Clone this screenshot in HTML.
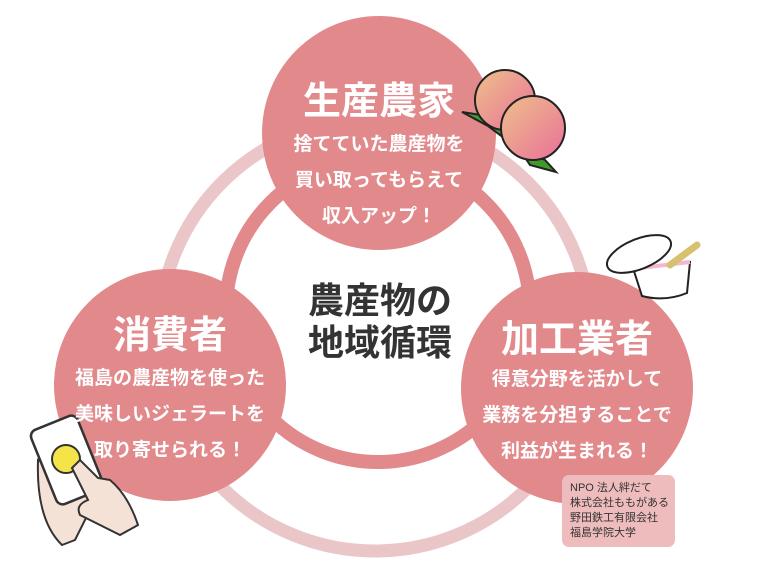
<!DOCTYPE html>
<html><head><meta charset="utf-8"><style>
body{margin:0;width:760px;height:570px;background:#fff;overflow:hidden;position:relative;font-family:"Liberation Sans","Noto Sans CJK JP",sans-serif}
.t{position:absolute;text-align:center;color:#fff;font-weight:bold;white-space:nowrap}
.h{font-size:38px}
.b{font-size:19px;line-height:36px}
</style></head><body>
<svg width="760" height="570" style="position:absolute;left:0;top:0">
<defs>
<linearGradient id="pg" x1="0" y1="0" x2="1" y2="1"><stop offset="0" stop-color="#eec08a"/><stop offset="1" stop-color="#e9709a"/></linearGradient>
</defs>
<circle cx="375" cy="335" r="216" fill="none" stroke="#ebc6c9" stroke-width="13"/>
<circle cx="378" cy="310" r="152" fill="none" stroke="#e2898c" stroke-width="14"/>
<circle cx="379" cy="133" r="117" fill="#e2898c"/>
<circle cx="170" cy="385" r="116" fill="#e2898c"/>
<circle cx="577" cy="388" r="116" fill="#e2898c"/>
<rect x="562" y="475" width="113" height="72" rx="7" fill="#efbcbe"/>
<!-- peach -->
<path d="M462 112 L500 118 L520 150 L488 126Z" fill="#3f9a2c" stroke="#222" stroke-width="2"/>
<path d="M520 150 L545 160 L556 172 L530 165Z" fill="#3f9a2c" stroke="#222" stroke-width="2"/>
<circle cx="505" cy="100" r="30" fill="url(#pg)" stroke="#222" stroke-width="2"/>
<circle cx="533" cy="128" r="32" fill="url(#pg)" stroke="#222" stroke-width="2"/>
<!-- ice cream -->
<path d="M633 268 L690 262 L687 293 Q665 302 642 296Z" fill="#fff" stroke="#222" stroke-width="2"/>
<path d="M640 268 L690 262" stroke="#f3b7cf" stroke-width="4"/>
<path d="M670 265 L697 245" stroke="#d7c06e" stroke-width="7" stroke-linecap="round"/>
<ellipse cx="639" cy="254" rx="34" ry="15" transform="rotate(-22 639 254)" fill="#fff" stroke="#222" stroke-width="2"/>
<!-- hand/phone -->
<path d="M38 460 Q36 520 62 545 L75 540 L100 490Z" fill="#f5e2d6" stroke="#333" stroke-width="2"/>
<rect x="42" y="420" width="50" height="80" rx="7" transform="rotate(-22 67 460)" fill="#fff" stroke="#333" stroke-width="2.5"/>
<circle cx="66" cy="459" r="14" fill="#f5e34a" stroke="#333" stroke-width="2"/>
<path d="M72 468 L88 500 Q75 505 80 515 L120 535 L138 525 Q128 495 110 480 L98 478 L80 460Z" fill="#f5e2d6" stroke="#333" stroke-width="2"/>
</svg>
<div class="t h" style="left:279px;width:200px;top:70px">生産農家</div>
<div class="t b" style="left:259px;width:240px;top:127px">捨てていた農産物を<br>買い取ってもらえて<br>収入アップ！</div>
<div class="t h" style="left:70px;width:200px;top:304px">消費者</div>
<div class="t b" style="left:50px;width:240px;top:361px">福島の農産物を使った<br>美味しいジェラートを<br>取り寄せられる！</div>
<div class="t h" style="left:477px;width:200px;top:308px">加工業者</div>
<div class="t b" style="left:457px;width:240px;top:362px">得意分野を活かして<br>業務を分担することで<br>利益が生まれる！</div>
<div class="t" style="left:280px;width:200px;top:280px;color:#333;font-size:36px;line-height:42px">農産物の<br>地域循環</div>
<div style="position:absolute;left:570px;top:481px;font-size:11px;line-height:15px;color:#333">NPO 法人絆だて<br>株式会社ももがある<br>野田鉄工有限会社<br>福島学院大学</div>
</body></html>
